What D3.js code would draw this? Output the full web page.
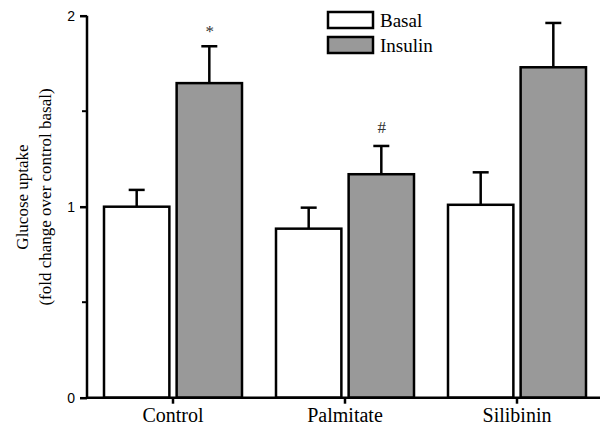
<!DOCTYPE html>
<html>
<head>
<meta charset="utf-8">
<script src="https://cdn.jsdelivr.net/npm/d3@7"></script>
<style>
  body { margin: 0; background: #fff; }
  svg { display: block; }
</style>
</head>
<body>
<svg id="chart"></svg>
<script>
const categories = ["Control", "Palmitate", "Silibinin"];
const series = ["Basal", "Insulin"];
const basalValues = [1.0, 0.885, 1.01];
const basalErrors = [0.088, 0.11, 0.17];
const insulinValues = [1.647, 1.17, 1.73];
const insulinErrors = [0.193, 0.148, 0.232];
const marks = ["*", "#", ""];
const yTicks = [0, 1, 2];
const yMinorTicks = [0.5, 1.5];

const width = 600, height = 427;
const fills = { Basal: "#ffffff", Insulin: "#999999" };
const serif = "'Liberation Serif', 'Times New Roman', serif";
const sans = "'Liberation Sans', Arial, sans-serif";

const svg = d3.select("#chart")
              .attr("width", width)
              .attr("height", height);

const x0 = d3.scaleBand()
             .domain(categories)
             .range([87, 603])
             .padding(0);

const x1 = d3.scaleBand()
             .domain(series)
             .range([-69, 69])
             .paddingInner(0.1);

const y = d3.scaleLinear()
            .domain([0, 2])
            .range([397.7, 15.7]);

const rows = [];
categories.forEach((c, i) => {
    rows.push({ cat: c, s: "Basal", v: basalValues[i], e: basalErrors[i], m: "" });
    rows.push({ cat: c, s: "Insulin", v: insulinValues[i], e: insulinErrors[i], m: marks[i] });
});
const cx = d => x0(d.cat) + x0.bandwidth() / 2 + x1(d.s);

// error bars first, bar outline covers the stem base
svg.selectAll("line.err")
   .data(rows)
   .enter()
   .append("line")
   .attr("x1", d => cx(d) + x1.bandwidth() / 2)
   .attr("x2", d => cx(d) + x1.bandwidth() / 2)
   .attr("y1", d => y(d.v))
   .attr("y2", d => y(d.v + d.e))
   .attr("stroke", "#000")
   .attr("stroke-width", 2.5);

svg.selectAll("line.cap")
   .data(rows)
   .enter()
   .append("line")
   .attr("x1", d => cx(d) + x1.bandwidth() / 2 - 8)
   .attr("x2", d => cx(d) + x1.bandwidth() / 2 + 8)
   .attr("y1", d => y(d.v + d.e))
   .attr("y2", d => y(d.v + d.e))
   .attr("stroke", "#000")
   .attr("stroke-width", 2.5);

svg.selectAll("rect.bar")
   .data(rows)
   .enter()
   .append("rect")
   .attr("x", d => cx(d))
   .attr("y", d => y(d.v))
   .attr("width", x1.bandwidth())
   .attr("height", d => y(0) - y(d.v))
   .attr("fill", d => fills[d.s])
   .attr("stroke", "#000")
   .attr("stroke-width", 2.5);

svg.selectAll("text.mark")
   .data(rows.filter(d => d.m))
   .enter()
   .append("text")
   .attr("x", d => cx(d) + x1.bandwidth() / 2 + 0.5)
   .attr("y", d => y(d.v + d.e) - (d.m === "*" ? 9 : 13))
   .attr("text-anchor", "middle")
   .attr("font-family", serif)
   .attr("font-size", 17)
   .attr("fill", "#333")
   .text(d => d.m);

// y axis
const yAxis = svg.append("g")
                 .attr("transform", "translate(87,0)")
                 .call(d3.axisLeft(y).tickValues(yTicks).tickFormat(d3.format("d")).tickSize(7).tickPadding(5));
yAxis.select(".domain").attr("stroke-width", 2.5).attr("d", `M0,${y(2)}V${y(0)}`);
yAxis.selectAll(".tick line").attr("stroke-width", 2.5);
yAxis.selectAll(".tick text")
     .attr("font-family", sans)
     .attr("font-size", 14)
     .attr("fill", "#000");

svg.selectAll("line.minor")
   .data(yMinorTicks)
   .enter()
   .append("line")
   .attr("x1", 82)
   .attr("x2", 87)
   .attr("y1", d => y(d))
   .attr("y2", d => y(d))
   .attr("stroke", "#000")
   .attr("stroke-width", 2);

// x axis
const xAxis = svg.append("g")
                 .attr("transform", `translate(0,${y(0)})`)
                 .call(d3.axisBottom(x0).tickSize(6).tickPadding(4));
xAxis.select(".domain").attr("stroke-width", 2.5).attr("d", "M86,0H600");
xAxis.selectAll(".tick line").attr("stroke-width", 2.5);
xAxis.selectAll(".tick text")
     .attr("font-family", serif)
     .attr("font-size", 20)
     .attr("fill", "#000");

// y label
const yLabel = svg.append("text")
                  .attr("transform", "translate(0,197) rotate(-90)")
                  .attr("text-anchor", "middle")
                  .attr("font-family", serif)
                  .attr("font-size", 17);
yLabel.append("tspan").attr("x", 0).attr("y", 28).text("Glucose uptake");
yLabel.append("tspan").attr("x", 0).attr("y", 51).text("(fold change over control basal)");

// legend
const legend = svg.selectAll("g.legend")
                  .data(series)
                  .enter()
                  .append("g")
                  .attr("transform", (d, i) => `translate(328,${12 + i * 25})`);
legend.append("rect")
      .attr("width", 45)
      .attr("height", 16)
      .attr("fill", d => fills[d])
      .attr("stroke", "#000")
      .attr("stroke-width", 2.5);
legend.append("text")
      .attr("x", 52)
      .attr("y", 15)
      .attr("font-family", serif)
      .attr("font-size", 19)
      .text(d => d);
</script>
</body>
</html>
